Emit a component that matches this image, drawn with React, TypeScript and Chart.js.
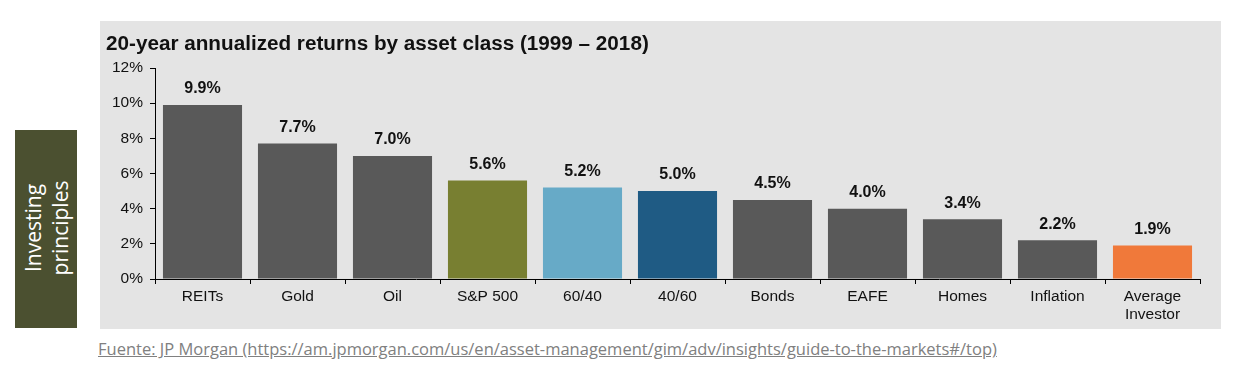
import React, { useEffect, useRef } from "react";
import { Chart, registerables } from "chart.js";

Chart.register(...registerables);

const categories: (string | string[])[] = [
  "REITs", "Gold", "Oil", "S&P 500", "60/40", "40/60", "Bonds", "EAFE", "Homes", "Inflation", ["Average", "Investor"],
];
const returns: number[] = [9.9, 7.7, 7.0, 5.6, 5.2, 5.0, 4.5, 4.0, 3.4, 2.2, 1.9];
const barColors: string[] = [
  "#595959", "#595959", "#595959", "#787f31", "#67aac7", "#1f5b84", "#595959", "#595959", "#595959", "#595959", "#f0793a",
];
const yTicks: number[] = [0, 2, 4, 6, 8, 10, 12];
const titleText = "20-year annualized returns by asset class (1999 – 2018)";
const sourceText = "Fuente: JP Morgan (https://am.jpmorgan.com/us/en/asset-management/gim/adv/insights/guide-to-the-markets#/top)";

const FONT = "'Liberation Sans', Arial, sans-serif";

const valueLabels = {
  id: "valueLabels",
  afterDatasetsDraw(chart: any) {
    const ctx = chart.ctx;
    const meta = chart.getDatasetMeta(0);
    ctx.save();
    ctx.font = `bold 16px ${FONT}`;
    ctx.fillStyle = "#111";
    ctx.textAlign = "center";
    ctx.textBaseline = "middle";
    meta.data.forEach((bar: any, i: number) => {
      ctx.fillText(returns[i].toFixed(1) + "%", bar.x, bar.y - 16);
    });
    ctx.restore();
  },
};

export default function App() {
  const canvasRef = useRef<HTMLCanvasElement | null>(null);

  useEffect(() => {
    if (!canvasRef.current) return;
    const chart = new Chart(canvasRef.current, {
      type: "bar",
      data: {
        labels: categories,
        datasets: [
          {
            data: returns,
            backgroundColor: barColors,
            borderWidth: 0,
            barPercentage: 0.9,
            categoryPercentage: 0.925,
          },
        ],
      },
      options: {
        animation: false,
        responsive: false,
        maintainAspectRatio: false,
        layout: { padding: { top: 47, right: 20, bottom: 0, left: 0 } },
        plugins: {
          legend: { display: false },
          tooltip: { enabled: false },
          title: { display: false },
        },
        scales: {
          x: {
            afterFit: (axis: any) => {
              axis.height = 50;
            },
            grid: {
              display: true,
              drawOnChartArea: false,
              drawTicks: true,
              tickLength: 5,
              color: "#000",
              offset: true,
            },
            border: { display: true, color: "#000", width: 1 },
            ticks: {
              color: "#111",
              font: { family: FONT, size: 15.5, lineHeight: 1.15 },
              padding: 4,
              maxRotation: 0,
              autoSkip: false,
            },
          },
          y: {
            min: 0,
            max: 12,
            afterFit: (axis: any) => {
              axis.width = 55;
            },
            afterBuildTicks: (axis: any) => {
              axis.ticks = yTicks.map((v) => ({ value: v }));
            },
            grid: {
              display: true,
              drawOnChartArea: false,
              drawTicks: true,
              tickLength: 5,
              color: "#000",
            },
            border: { display: true, color: "#000", width: 1 },
            ticks: {
              color: "#111",
              font: { family: FONT, size: 15.5 },
              padding: 7,
              callback: (v: any) => v + "%",
            },
          },
        },
      },
      plugins: [valueLabels],
    });
    return () => chart.destroy();
  }, []);

  return (
    <div style={{ position: "absolute", left: 0, top: 0, width: 1238, height: 369, background: "#fff", overflow: "hidden" }}>
      <div
        style={{
          position: "absolute",
          left: 15,
          top: 130,
          width: 62,
          height: 198,
          background: "#4b5030",
        }}
      >
        <div
          style={{
            position: "absolute",
            left: 32,
            top: 98,
            transform: "translate(-50%, -50%) rotate(-90deg)",
            color: "#fff",
            fontFamily: "'Open Sans', sans-serif",
            fontSize: 21,
            lineHeight: "27px",
            textAlign: "center",
            whiteSpace: "nowrap",
          }}
        >
          Investing
          <br />
          principles
        </div>
      </div>
      <div style={{ position: "absolute", left: 100, top: 21, width: 1121, height: 308, background: "#e4e4e4" }}>
        <canvas ref={canvasRef} width={1120} height={308} style={{ position: "absolute", left: 0, top: 0 }} />
        <div
          style={{
            position: "absolute",
            left: 6,
            top: 10,
            fontFamily: FONT,
            fontWeight: "bold",
            fontSize: 20.7,
            color: "#111",
            whiteSpace: "nowrap",
          }}
        >
          {titleText}
        </div>
      </div>
      <div
        style={{
          position: "absolute",
          left: 98,
          top: 337,
          fontFamily: "'Open Sans', sans-serif",
          fontSize: 16.5,
          color: "#808080",
          textDecoration: "underline",
          whiteSpace: "nowrap",
        }}
      >
        {sourceText}
      </div>
    </div>
  );
}
